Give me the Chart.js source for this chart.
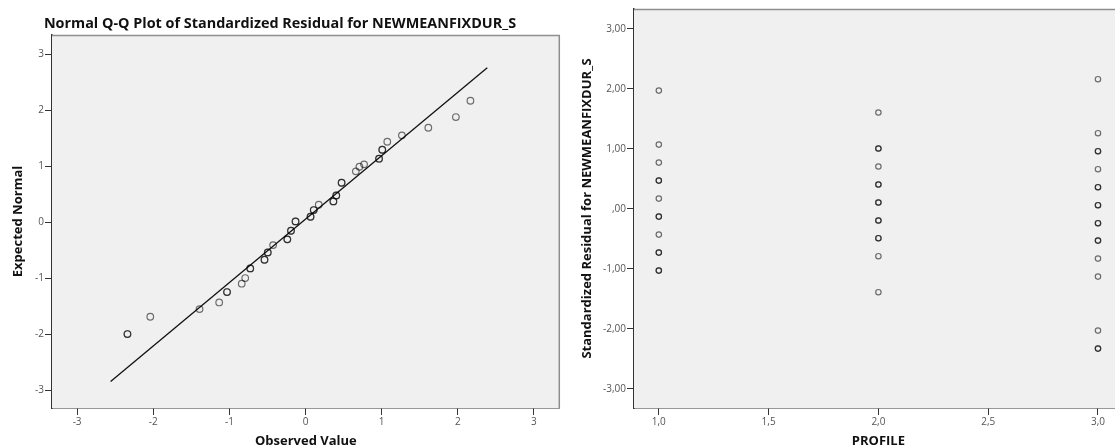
<!DOCTYPE html>
<html>
<head>
<meta charset="utf-8">
<script src="https://cdn.jsdelivr.net/npm/chart.js@4.4.1/dist/chart.umd.min.js"></script>
<style>
  html, body { margin: 0; padding: 0; background: #ffffff; width: 1115px; height: 448px; overflow: hidden; }
  canvas { position: absolute; top: 0; }
  #qqPlot { left: 0; }
  #residPlot { left: 565px; }
</style>
</head>
<body>
<canvas id="qqPlot" width="565" height="448"></canvas>
<canvas id="residPlot" width="563" height="448"></canvas>
<script>
// ---- Normal Q-Q plot: observed standardized residuals vs expected normal values ----
// Tied cases are listed once per case, so overlapping circles print darker.
const qqObserved = [
  2.166, 1.975, 1.613, 1.266, 1.074, 1.008, 1.008, 0.966, 0.966, 0.769,
  0.708, 0.661, 0.474, 0.474, 0.404, 0.404, 0.366, 0.366, 0.174, 0.108,
  0.108, 0.066, 0.066, -0.131, -0.131, -0.191, -0.191, -0.239, -0.239, -0.426,
  -0.496, -0.496, -0.539, -0.539, -0.726, -0.726, -0.792, -0.838, -1.031, -1.031,
  -1.134, -1.392, -2.039, -2.339, -2.339
];
const qqExpected = [
  2.166, 1.875, 1.684, 1.548, 1.434, 1.291, 1.291, 1.131, 1.131, 1.030,
  0.988, 0.905, 0.702, 0.702, 0.476, 0.476, 0.369, 0.369, 0.309, 0.214,
  0.214, 0.095, 0.095, 0.012, 0.012, -0.155, -0.155, -0.309, -0.309, -0.411,
  -0.542, -0.542, -0.673, -0.673, -0.827, -0.827, -1.000, -1.101, -1.250, -1.250,
  -1.435, -1.554, -1.691, -2.000, -2.000
];
// Reference line endpoints (observed, expected)
const refLineX = [-2.56, 2.387];
const refLineY = [-2.845, 2.755];
const qqTicks = [-3, -2, -1, 0, 1, 2, 3];
const qqTickLabels = ['-3', '-2', '-1', '0', '1', '2', '3'];

// ---- Standardized residual by PROFILE ----
const profileCodes = [1, 2, 3];
const residProfile1 = [1.97, 1.07, 0.77, 0.47, 0.47, 0.17, -0.13, -0.13, -0.43, -0.73, -0.73, -1.03, -1.03];
const residProfile2 = [1.605, 1.005, 1.005, 0.705, 0.405, 0.405, 0.105, 0.105, -0.195, -0.195, -0.49, -0.49, -0.79, -1.39];
const residProfile3 = [2.16, 1.26, 0.96, 0.96, 0.66, 0.36, 0.36, 0.06, 0.06, -0.24, -0.24, -0.53, -0.53, -0.83, -1.13, -2.03, -2.33, -2.33];
const profileTicks = [1, 1.5, 2, 2.5, 3];
const profileTickLabels = ['1,0', '1,5', '2,0', '2,5', '3,0'];
const residTicks = [-3, -2, -1, 0, 1, 2, 3];
const residTickLabels = ['-3,00', '-2,00', '-1,00', ',00', '1,00', '2,00', '3,00'];

const FONT = "'Open Sans', 'Liberation Sans', sans-serif";
const AXIS_DARK = '#333333';
const FRAME_GREY = '#8e8e8e';
const PLOT_BG = '#f0f0f0';
const MARK = 'rgba(0,0,0,0.55)';

// Grey plot background plus the light top/right frame lines
const plotFrame = {
  id: 'plotFrame',
  beforeDatasetsDraw(chart) {
    const { ctx, chartArea: a } = chart;
    ctx.save();
    ctx.fillStyle = PLOT_BG;
    ctx.fillRect(a.left, a.top, a.right - a.left, a.bottom - a.top);
    ctx.restore();
  },
  afterDraw(chart) {
    const { ctx, chartArea: a } = chart;
    ctx.save();
    ctx.strokeStyle = FRAME_GREY;
    ctx.lineWidth = 1.5;
    ctx.beginPath();
    ctx.moveTo(a.left, a.top + 0.5);
    ctx.lineTo(a.right - 0.5, a.top + 0.5);
    ctx.lineTo(a.right - 0.5, a.bottom);
    ctx.stroke();
    ctx.restore();
  }
};

function fixedTicks(values) {
  return function (scale) { scale.ticks = values.map(v => ({ value: v })); };
}
function labelFrom(values, labels) {
  return function (v) { const i = values.indexOf(v); return i >= 0 ? labels[i] : ''; };
}

function axis(opts) {
  return {
    type: 'linear',
    position: opts.position,
    min: opts.min,
    max: opts.max,
    afterBuildTicks: fixedTicks(opts.ticks),
    afterFit: opts.afterFit,
    grid: { drawOnChartArea: false, drawTicks: true, tickLength: 7, tickColor: AXIS_DARK, tickWidth: 1 },
    border: { display: true, color: AXIS_DARK, width: 1.5 },
    ticks: {
      autoSkip: false, maxRotation: 0, padding: opts.tickPad,
      color: '#555555', font: { family: FONT, size: 10 },
      callback: labelFrom(opts.ticks, opts.labels)
    },
    title: {
      display: true, text: opts.title, color: '#111111',
      font: { family: FONT, size: 13, weight: 'bold', lineHeight: 1 },
      padding: opts.titlePad
    }
  };
}

Chart.defaults.font.family = FONT;

new Chart(document.getElementById('qqPlot'), {
  type: 'scatter',
  data: {
    datasets: [
      {
        data: qqObserved.map((x, i) => ({ x: x, y: qqExpected[i] })),
        pointStyle: 'circle', pointRadius: 3.3, pointBorderWidth: 1.2,
        pointBackgroundColor: 'rgba(0,0,0,0)', pointBorderColor: MARK
      },
      {
        data: refLineX.map((x, i) => ({ x: x, y: refLineY[i] })),
        showLine: true, pointRadius: 0, borderColor: '#111111', borderWidth: 1.3
      }
    ]
  },
  options: {
    responsive: false, animation: false, events: [],
    layout: { padding: { left: 0, right: 5, top: 0, bottom: 0 } },
    plugins: {
      legend: { display: false }, tooltip: { enabled: false },
      title: {
        display: true, text: 'Normal Q-Q Plot of Standardized Residual for NEWMEANFIXDUR_S',
        color: '#111111', font: { family: FONT, size: 14.4, weight: 'bold', lineHeight: 1 },
        padding: { top: 17, bottom: 3.6 }
      }
    },
    scales: {
      x: axis({ position: 'bottom', min: -3.33, max: 3.34, ticks: qqTicks, labels: qqTickLabels,
                title: 'Observed Value', tickPad: 1, titlePad: { top: 0, bottom: 0 },
                afterFit: s => { s.height = 40; } }),
      y: axis({ position: 'left', min: -3.32, max: 3.34, ticks: qqTicks, labels: qqTickLabels,
                title: 'Expected Normal', tickPad: 1, titlePad: { top: 12, bottom: 0 },
                afterFit: s => { s.width = 52; } })
    }
  },
  plugins: [plotFrame]
});

const residPoints = [];
[residProfile1, residProfile2, residProfile3].forEach((vals, k) => {
  vals.forEach(v => residPoints.push({ x: profileCodes[k], y: v }));
});

new Chart(document.getElementById('residPlot'), {
  type: 'scatter',
  data: {
    datasets: [{
      data: residPoints,
      pointStyle: 'circle', pointRadius: 2.7, pointBorderWidth: 1.2,
      pointBackgroundColor: 'rgba(0,0,0,0)', pointBorderColor: MARK
    }]
  },
  options: {
    responsive: false, animation: false, events: [],
    layout: { padding: { left: 0, right: 0, top: 9, bottom: 0 } },
    plugins: { legend: { display: false }, tooltip: { enabled: false } },
    scales: {
      x: axis({ position: 'bottom', min: 0.887, max: 3.113, ticks: profileTicks, labels: profileTickLabels,
                title: 'PROFILE', tickPad: 1, titlePad: { top: 0, bottom: 0 },
                afterFit: s => { s.height = 40; } }),
      y: axis({ position: 'left', min: -3.32, max: 3.33, ticks: residTicks, labels: residTickLabels,
                title: 'Standardized Residual for NEWMEANFIXDUR_S', tickPad: 1, titlePad: { top: 16, bottom: 0 },
                afterFit: s => { s.width = 69; } })
    }
  },
  plugins: [plotFrame]
});
</script>
</body>
</html>
